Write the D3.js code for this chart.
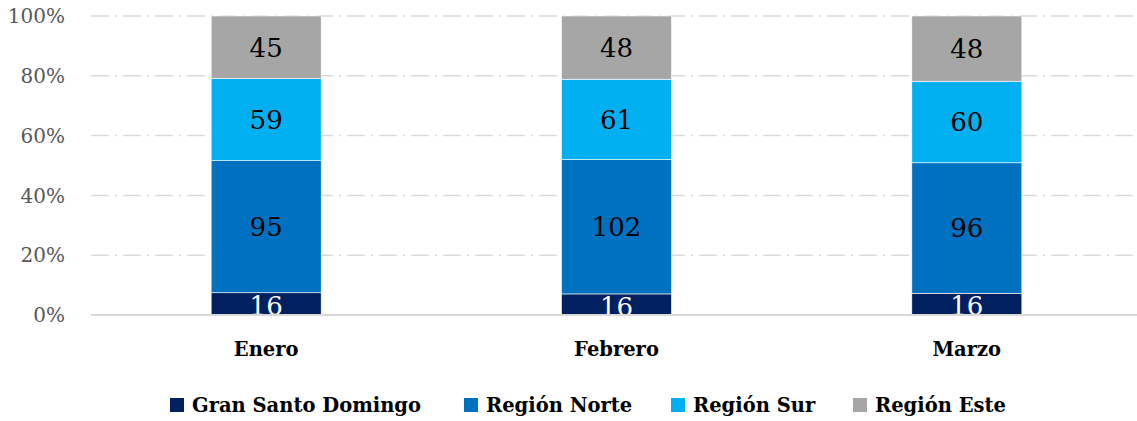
<!DOCTYPE html>
<html>
<head>
<meta charset="utf-8">
<script src="https://cdn.jsdelivr.net/npm/d3@7"></script>
<style>
  body { margin: 0; background: #fff; }
  text { font-family: "DejaVu Serif", serif; }
</style>
</head>
<body>
<script>
var width = 1137;
var height = 421;

// data
const months = ["Enero", "Febrero", "Marzo"];
const series = ["Gran Santo Domingo", "Región Norte", "Región Sur", "Región Este"];
const gsd   = [16, 16, 16];
const norte = [95, 102, 96];
const sur   = [59, 61, 60];
const este  = [45, 48, 48];
const yTicks = [0, 0.2, 0.4, 0.6, 0.8, 1];

const colors = ["#002060", "#0070C0", "#00B0F0", "#A6A6A6"];
const labelColors = ["#fff", "#000", "#000", "#000"];

var rows = months.map(function(m, i) {
    return {month: m, "Gran Santo Domingo": gsd[i], "Región Norte": norte[i], "Región Sur": sur[i], "Región Este": este[i]};
});

var svg = d3.select("body").append("svg")
    .attr("width", width)
    .attr("height", height);

var x = d3.scaleBand()
    .domain(months)
    .range([91, 1142])
    .paddingInner(0.686)
    .paddingOuter(0.343);

var y = d3.scaleLinear()
    .domain([0, 1])
    .range([315, 16]);

// gridlines (dash-dot)
svg.append("g").selectAll("line")
    .data(yTicks.filter(function(d) { return d > 0; }))
    .enter().append("line")
    .attr("x1", 91).attr("x2", width)
    .attr("y1", function(d) { return y(d); })
    .attr("y2", function(d) { return y(d); })
    .style("stroke", "#d9d9d9")
    .style("stroke-width", 1.5)
    .style("stroke-dasharray", "18,6,2,6");

// y tick labels
svg.append("g").selectAll("text")
    .data(yTicks)
    .enter().append("text")
    .attr("x", 65)
    .attr("y", function(d) { return y(d); })
    .attr("dy", "0.36em")
    .attr("text-anchor", "end")
    .style("font-size", "20px")
    .style("fill", "#595959")
    .text(d3.format(".0%"));

var stack = d3.stack().keys(series).offset(d3.stackOffsetExpand);
var layers = stack(rows);

var g = svg.append("g").selectAll("g")
    .data(layers)
    .enter().append("g")
    .style("fill", function(d, i) { return colors[i]; });

g.selectAll("rect")
    .data(function(d) { return d; })
    .enter().append("rect")
    .attr("x", function(d) { return x(d.data.month); })
    .attr("width", x.bandwidth())
    .attr("y", function(d) { return y(d[1]); })
    .attr("height", function(d) { return y(d[0]) - y(d[1]); })
    .style("stroke", "#fff")
    .style("stroke-width", 0.6);

// value labels (bottom segment clipped at the baseline like the original)
svg.append("clipPath").attr("id", "plotclip")
    .append("rect").attr("x", 0).attr("y", 0).attr("width", width).attr("height", y(0));

layers.forEach(function(layer, i) {
    svg.append("g").attr("clip-path", "url(#plotclip)").selectAll("text")
        .data(layer)
        .enter().append("text")
        .attr("x", function(d) { return x(d.data.month) + x.bandwidth() / 2; })
        .attr("y", function(d) { return (y(d[0]) + y(d[1])) / 2 + (i == 0 ? 2 : 0); })
        .attr("dy", "0.36em")
        .attr("text-anchor", "middle")
        .style("font-size", "26px")
        .style("fill", labelColors[i])
        .text(function(d) { return d.data[layer.key]; });
});

// baseline
svg.append("line")
    .attr("x1", 91).attr("x2", width)
    .attr("y1", y(0)).attr("y2", y(0))
    .style("stroke", "#d9d9d9")
    .style("stroke-width", 2);

// category labels
svg.append("g").selectAll("text")
    .data(months)
    .enter().append("text")
    .attr("x", function(d) { return x(d) + x.bandwidth() / 2; })
    .attr("y", 356)
    .attr("text-anchor", "middle")
    .style("font-size", "19.5px")
    .style("font-weight", "bold")
    .style("fill", "#000")
    .text(function(d) { return d; });

// legend
var legendX = [170, 464, 671, 853];
var legend = svg.append("g").selectAll("g")
    .data(series)
    .enter().append("g")
    .attr("transform", function(d, i) { return "translate(" + legendX[i] + ",398)"; });

legend.append("rect")
    .attr("width", 14).attr("height", 14)
    .style("fill", function(d, i) { return colors[i]; });

legend.append("text")
    .attr("x", 22)
    .attr("y", 14)
    .style("font-size", "19.5px")
    .style("font-weight", "bold")
    .style("fill", "#000")
    .text(function(d) { return d; });
</script>
</body>
</html>
